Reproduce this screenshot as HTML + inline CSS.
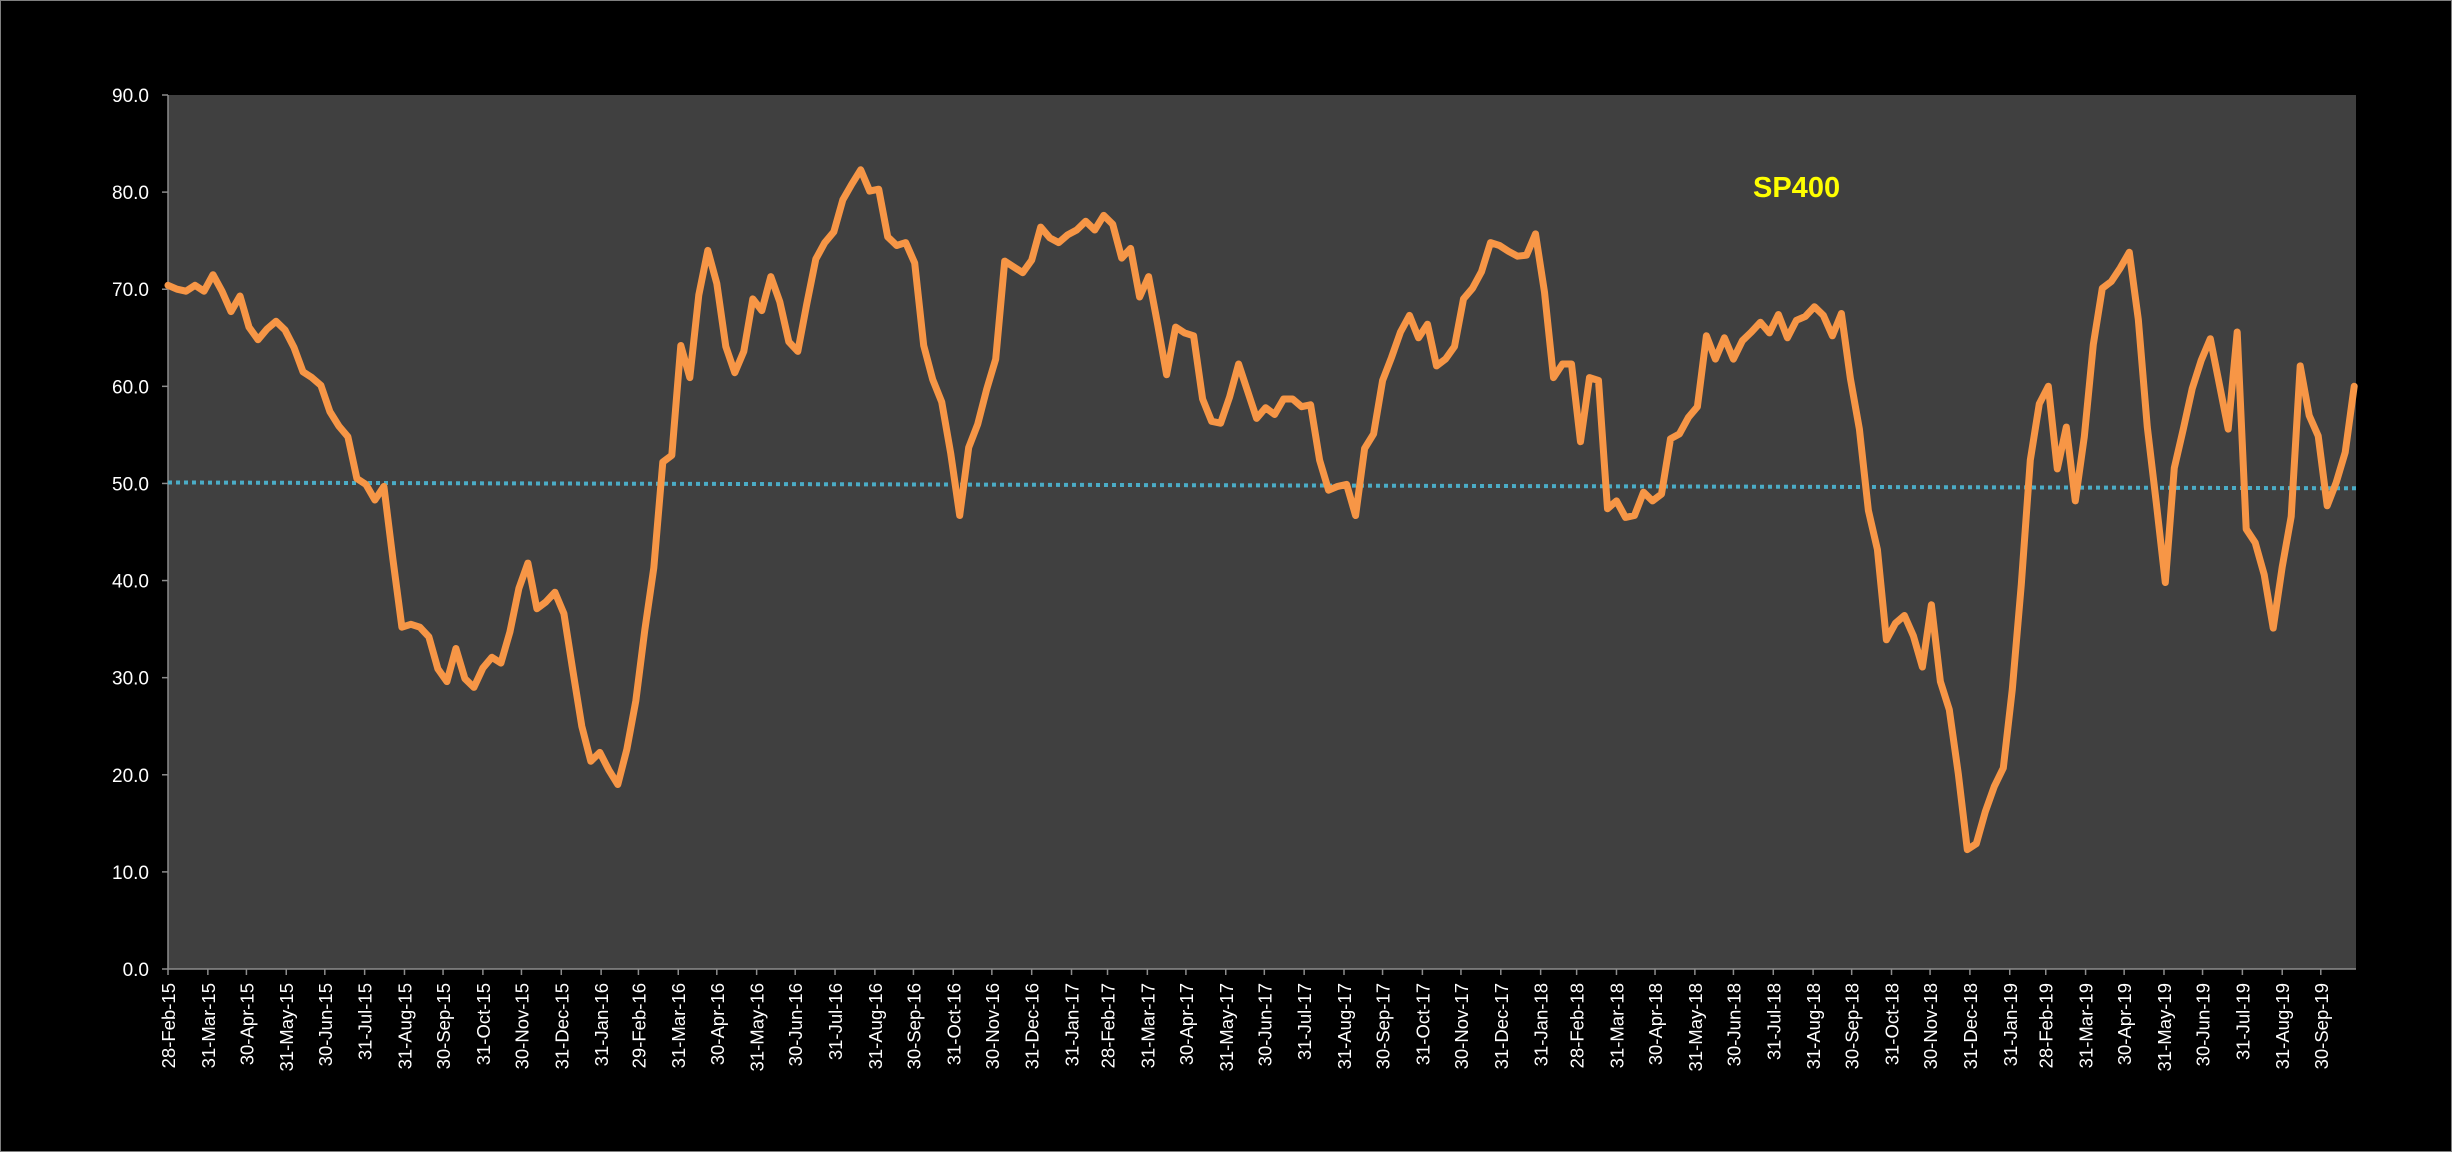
<!DOCTYPE html>
<html><head><meta charset="utf-8">
<style>
html,body{margin:0;padding:0;background:#000;}
body{width:2452px;height:1152px;overflow:hidden;}
#wrap{position:absolute;left:0;top:0;width:2450px;height:1150px;border:1px solid #7f7f7f;background:#000;}
svg{position:absolute;left:0;top:0;}
text{font-family:"Liberation Sans",sans-serif;fill:#fff;}
</style></head>
<body>
<div id="wrap"></div>
<svg id="chart" width="2452" height="1152"></svg>
<script>
const tickLabels = ["28-Feb-15","31-Mar-15","30-Apr-15","31-May-15","30-Jun-15","31-Jul-15","31-Aug-15","30-Sep-15","31-Oct-15","30-Nov-15","31-Dec-15","31-Jan-16","29-Feb-16","31-Mar-16","30-Apr-16","31-May-16","30-Jun-16","31-Jul-16","31-Aug-16","30-Sep-16","31-Oct-16","30-Nov-16","31-Dec-16","31-Jan-17","28-Feb-17","31-Mar-17","30-Apr-17","31-May-17","30-Jun-17","31-Jul-17","31-Aug-17","30-Sep-17","31-Oct-17","30-Nov-17","31-Dec-17","31-Jan-18","28-Feb-18","31-Mar-18","30-Apr-18","31-May-18","30-Jun-18","31-Jul-18","31-Aug-18","30-Sep-18","31-Oct-18","30-Nov-18","31-Dec-18","31-Jan-19","28-Feb-19","31-Mar-19","30-Apr-19","31-May-19","30-Jun-19","31-Jul-19","31-Aug-19","30-Sep-19"];
const yTicks = [0,10,20,30,40,50,60,70,80,90];
const startDate = "28-Feb-15";
const weekStepDays = 7;
const sp400 = [70.4,70.0,69.8,70.4,69.8,71.5,69.8,67.7,69.3,66.1,64.8,65.9,66.7,65.8,64.0,61.5,60.9,60.1,57.4,55.9,
54.8,50.5,49.9,48.3,49.7,42.2,35.2,35.5,35.2,34.2,30.9,29.6,33.0,29.9,29.0,31.0,32.1,31.5,34.7,39.2,
41.8,37.1,37.8,38.8,36.6,30.7,25.0,21.4,22.3,20.5,19.0,22.6,27.6,34.9,41.3,52.2,52.9,64.2,60.9,69.4,
74.0,70.6,64.1,61.4,63.6,69.0,67.8,71.3,68.7,64.6,63.6,68.5,73.1,74.8,75.9,79.2,80.8,82.3,80.1,80.3,
75.4,74.5,74.8,72.7,64.2,60.7,58.4,53.1,46.7,53.7,56.1,59.7,62.8,72.9,72.3,71.7,73.0,76.4,75.3,74.8,
75.6,76.1,77.0,76.1,77.6,76.7,73.2,74.2,69.2,71.3,66.4,61.2,66.1,65.5,65.2,58.7,56.4,56.2,58.9,62.3,
59.5,56.7,57.8,57.1,58.7,58.7,57.9,58.1,52.4,49.3,49.7,49.9,46.7,53.6,55.1,60.6,63.0,65.6,67.3,65.0,
66.4,62.1,62.8,64.1,69.0,70.1,71.8,74.8,74.5,73.9,73.4,73.5,75.7,69.7,60.9,62.3,62.3,54.3,60.9,60.6,
47.4,48.2,46.5,46.7,49.1,48.2,48.9,54.6,55.1,56.8,57.9,65.2,62.8,65.0,62.8,64.7,65.6,66.6,65.5,67.4,
65.0,66.8,67.2,68.2,67.3,65.2,67.5,60.8,55.6,47.2,43.2,33.9,35.6,36.4,34.3,31.1,37.5,29.6,26.7,20.1,
12.3,12.9,16.2,18.8,20.7,28.8,39.6,52.4,58.2,60.0,51.5,55.8,48.2,54.8,64.3,70.1,70.8,72.2,73.8,66.9,
55.8,48.0,39.8,51.6,55.6,59.8,62.7,64.9,60.3,55.6,65.6,45.3,43.9,40.6,35.1,41.4,46.6,62.1,57.0,54.9,
47.7,50.1,53.2,60.0];
const refLine = [50.1, 49.5];

const NS="http://www.w3.org/2000/svg";
const svg=document.getElementById('chart');
const L=168,R=2356,T=95,B=969;
const months={Jan:0,Feb:1,Mar:2,Apr:3,May:4,Jun:5,Jul:6,Aug:7,Sep:8,Oct:9,Nov:10,Dec:11};
function parseD(s){const p=s.split('-');return Date.UTC(2000+ +p[2],months[p[1]],+p[0])/86400000;}
const d0=parseD(startDate);
const lastDay=(sp400.length-1)*weekStepDays;
const pxPerDay=(R-L)/(lastDay+1.4);
function xDay(d){return L+d*pxPerDay;}
function yVal(v){return B-(v/90)*(B-T);}
function mk(tag,attrs){const e=document.createElementNS(NS,tag);for(const k in attrs)e.setAttribute(k,attrs[k]);svg.appendChild(e);return e;}

const bg=mk('rect',{x:L,y:T,width:R-L,height:B-T,fill:'#404040'});



const ya=mk('line',{x1:L,y1:T,x2:L,y2:B,stroke:'#8c8c8c','stroke-width':1.5});


const xa=mk('line',{x1:L,y1:B,x2:R,y2:B,stroke:'#8c8c8c','stroke-width':1.5});



yTicks.forEach(v=>{
  const y=yVal(v);
  const t=mk('line',{x1:L-6,y1:y,x2:L,y2:y,stroke:'#8c8c8c','stroke-width':1.5});
  
  
  const tx=mk('text',{x:149,y:y+7,'text-anchor':'end','font-size':19});
  tx.textContent=v.toFixed(1);
  
  
});

tickLabels.forEach(s=>{
  const x=xDay(parseD(s)-d0);
  const t=mk('line',{x1:x,y1:B,x2:x,y2:B+6,stroke:'#8c8c8c','stroke-width':1.5});
  
  
  const tx=mk('text',{x:0,y:0,'text-anchor':'end','font-size':18.5,transform:`translate(${x+7},${B+14}) rotate(-90)`});
  tx.textContent=s;
  
  
});

const ref=mk('line',{x1:L,y1:yVal(refLine[0]),x2:R,y2:yVal(refLine[1]),stroke:'#4bacc6','stroke-width':4,'stroke-dasharray':'4 4'});



const pts=sp400.map((v,i)=>xDay(i*weekStepDays).toFixed(1)+','+yVal(v).toFixed(1)).join(' ');
const line=mk('polyline',{points:pts,fill:'none',stroke:'#f79646','stroke-width':7,'stroke-linejoin':'round','stroke-linecap':'round'});



const title=mk('text',{x:1753,y:197,'font-size':29,'font-weight':'bold',fill:'#ffff00'});
title.style.fill='#ffff00';
title.textContent='SP400';


</script>
</body></html>
